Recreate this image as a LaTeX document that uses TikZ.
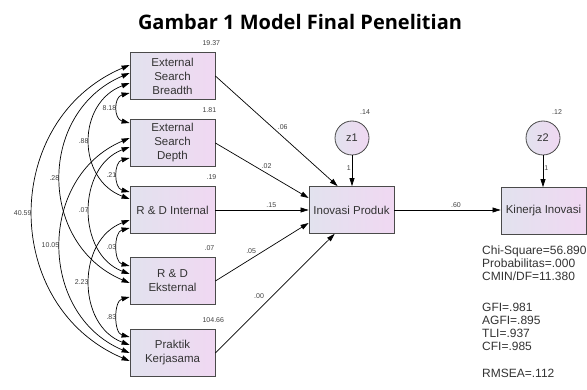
\documentclass[tikz,border=0pt]{standalone}
\usepackage{fontspec}
\setmainfont{Liberation Sans}
\newfontfamily\titlefont{Open Sans}
\usetikzlibrary{arrows.meta,positioning,calc}
\definecolor{boxleft}{HTML}{E2E2EE}
\definecolor{boxright}{HTML}{F0D8F2}
\definecolor{edgegray}{HTML}{4A4A4A}

\begin{document}
\begin{tikzpicture}[x=1pt, y=-1pt, >={Triangle[length=8pt,width=5pt]},
  var/.style={draw=edgegray, line width=0.8pt, left color=boxleft, right color=boxright,
    minimum width=85pt, minimum height=47pt, align=center, inner sep=1pt,
    font=\fontsize{11.5}{14}\selectfont, text=black!80},
  err/.style={circle, draw=edgegray, line width=0.8pt, left color=boxleft, right color=boxright,
    minimum size=34pt, inner sep=0pt, font=\fontsize{11}{13}\selectfont, text=black!80},
  est/.style={font=\fontsize{7}{8}\selectfont, text=black!75, inner sep=1pt},
  reg/.style={->, line width=0.7pt},
  cov/.style={<->, line width=0.7pt}]

  \useasboundingbox (0,0) rectangle (587,390);

  \node[font=\titlefont\bfseries\fontsize{20}{24}\selectfont] (title) at (300,22) {Gambar 1 Model Final Penelitian};

  % ---- exogenous variables ----
  \node[var] (esb) at (172.5,76)  {External\\Search\\Breadth};
  \node[var] (esd) at (172.5,143) {External\\Search\\Depth};
  \node[var] (rdi) at (172.5,210) {R \& D Internal};
  \node[var] (rde) at (172.5,281) {R \& D\\Eksternal};
  \node[var] (pk)  at (172.5,353) {Praktik\\Kerjasama};

  % variances
  \node[est, anchor=south west] at ([xshift=-14pt, yshift=5pt]esb.north east) {19.37};
  \node[est, anchor=south west] at ([xshift=-14pt, yshift=5pt]esd.north east) {1.81};
  \node[est, anchor=south west] at ([xshift=-10pt, yshift=5pt]rdi.north east) {.19};
  \node[est, anchor=south west] at ([xshift=-12pt, yshift=5pt]rde.north east) {.07};
  \node[est, anchor=south west] at ([xshift=-14pt, yshift=5pt]pk.north east)  {104.66};

  % ---- endogenous variables ----
  \node[var] (ip) at (351.5,210) {Inovasi Produk};
  \node[var] (ki) at (543.5,211) {Kinerja Inovasi};
  \node[err] (z1) at (352,138) {z1};
  \node[err] (z2) at (543,138) {z2};

  \node[est, anchor=south west] at ([xshift=7pt, yshift=5pt]z1.north) {.14};
  \node[est, anchor=south west] at ([xshift=8pt, yshift=5pt]z2.north) {.12};

  % ---- paths ----
  \draw[reg] (esb.east) -- ([xshift=29pt]ip.north west) node[est, pos=0.5, above right] {.06};
  \draw[reg] (esd.east) -- ([yshift=12pt]ip.west)       node[est, pos=0.55, above=3pt] {.02};
  \draw[reg] (rdi.east) -- (ip.west)                    node[est, pos=0.6, above=1pt] {.15};
  \draw[reg] (rde.east) -- ([yshift=-13pt]ip.west)      node[est, pos=0.45, above left] {.05};
  \draw[reg] (pk.east)  -- ([xshift=26pt]ip.south west) node[est, pos=0.43, above left=2pt] {.00};

  \draw[reg] (z1.south) -- (z1.south |- ip.north) node[est, pos=0.4, left] {1};
  \draw[reg] (z2.south) -- (z2.south |- ki.north) node[est, pos=0.4, right] {1};
  \draw[reg] (ip.east) -- (ip.east -| ki.west) node[est, pos=0.58, above=1pt] {.60};

  % ---- covariances ----
  \draw[cov] ([yshift=-17pt]esb.west) .. controls +(-16,4) and +(-16,-4) .. ([yshift=20pt]esd.west)
    node[est, pos=0.5, left=0pt] {8.18};
  \draw[cov] ([yshift=-7pt]esb.west) .. controls +(-53,20) and +(-53,-20) .. ([yshift=11pt]rdi.west)
    node[est, pos=0.5, left=0pt] {.88};
  \draw[cov] ([yshift=3pt]esb.west) .. controls +(-92,39) and +(-92,-39) .. ([yshift=-2pt]rde.west)
    node[est, pos=0.5, left=0pt] {.28};
  \draw[cov] ([yshift=11pt]esb.west) .. controls +(-129,55) and +(-129,-55) .. ([yshift=-8pt]pk.west)
    node[est, pos=0.5, left=0pt] {40.59};
  \draw[cov] ([yshift=-15pt]esd.west) .. controls +(-16,4) and +(-16,-4) .. ([yshift=18pt]rdi.west)
    node[est, pos=0.5, left=0pt] {.21};
  \draw[cov] ([yshift=-4pt]esd.west) .. controls +(-53,20) and +(-53,-20) .. ([yshift=7pt]rde.west)
    node[est, pos=0.5, left=0pt] {.07};
  \draw[cov] ([yshift=5pt]esd.west) .. controls +(-92,39) and +(-92,-39) .. (pk.west)
    node[est, pos=0.5, left=0pt] {10.05};
  \draw[cov] ([yshift=-18pt]rdi.west) .. controls +(-16,4) and +(-16,-4) .. ([yshift=15pt]rde.west)
    node[est, pos=0.5, left=0pt] {.03};
  \draw[cov] ([yshift=-10pt]rdi.west) .. controls +(-53,20) and +(-53,-20) .. ([yshift=8pt]pk.west)
    node[est, pos=0.5, left=0pt] {2.23};
  \draw[cov] ([yshift=-16pt]rde.west) .. controls +(-16,4) and +(-16,-4) .. ([yshift=16pt]pk.west)
    node[est, pos=0.5, left=0pt] {.83};

  % ---- fit indices ----
  \node[anchor=north west, align=left, inner sep=0pt, text=black!80,
        font=\fontsize{12}{13}\selectfont] (fit) at (482,246)
    {Chi-Square=56.890\\Probabilitas=.000\\CMIN/DF=11.380\\[18pt]
     GFI=.981\\AGFI=.895\\TLI=.937\\CFI=.985\\[14pt]RMSEA=.112};

\end{tikzpicture}
\end{document}
